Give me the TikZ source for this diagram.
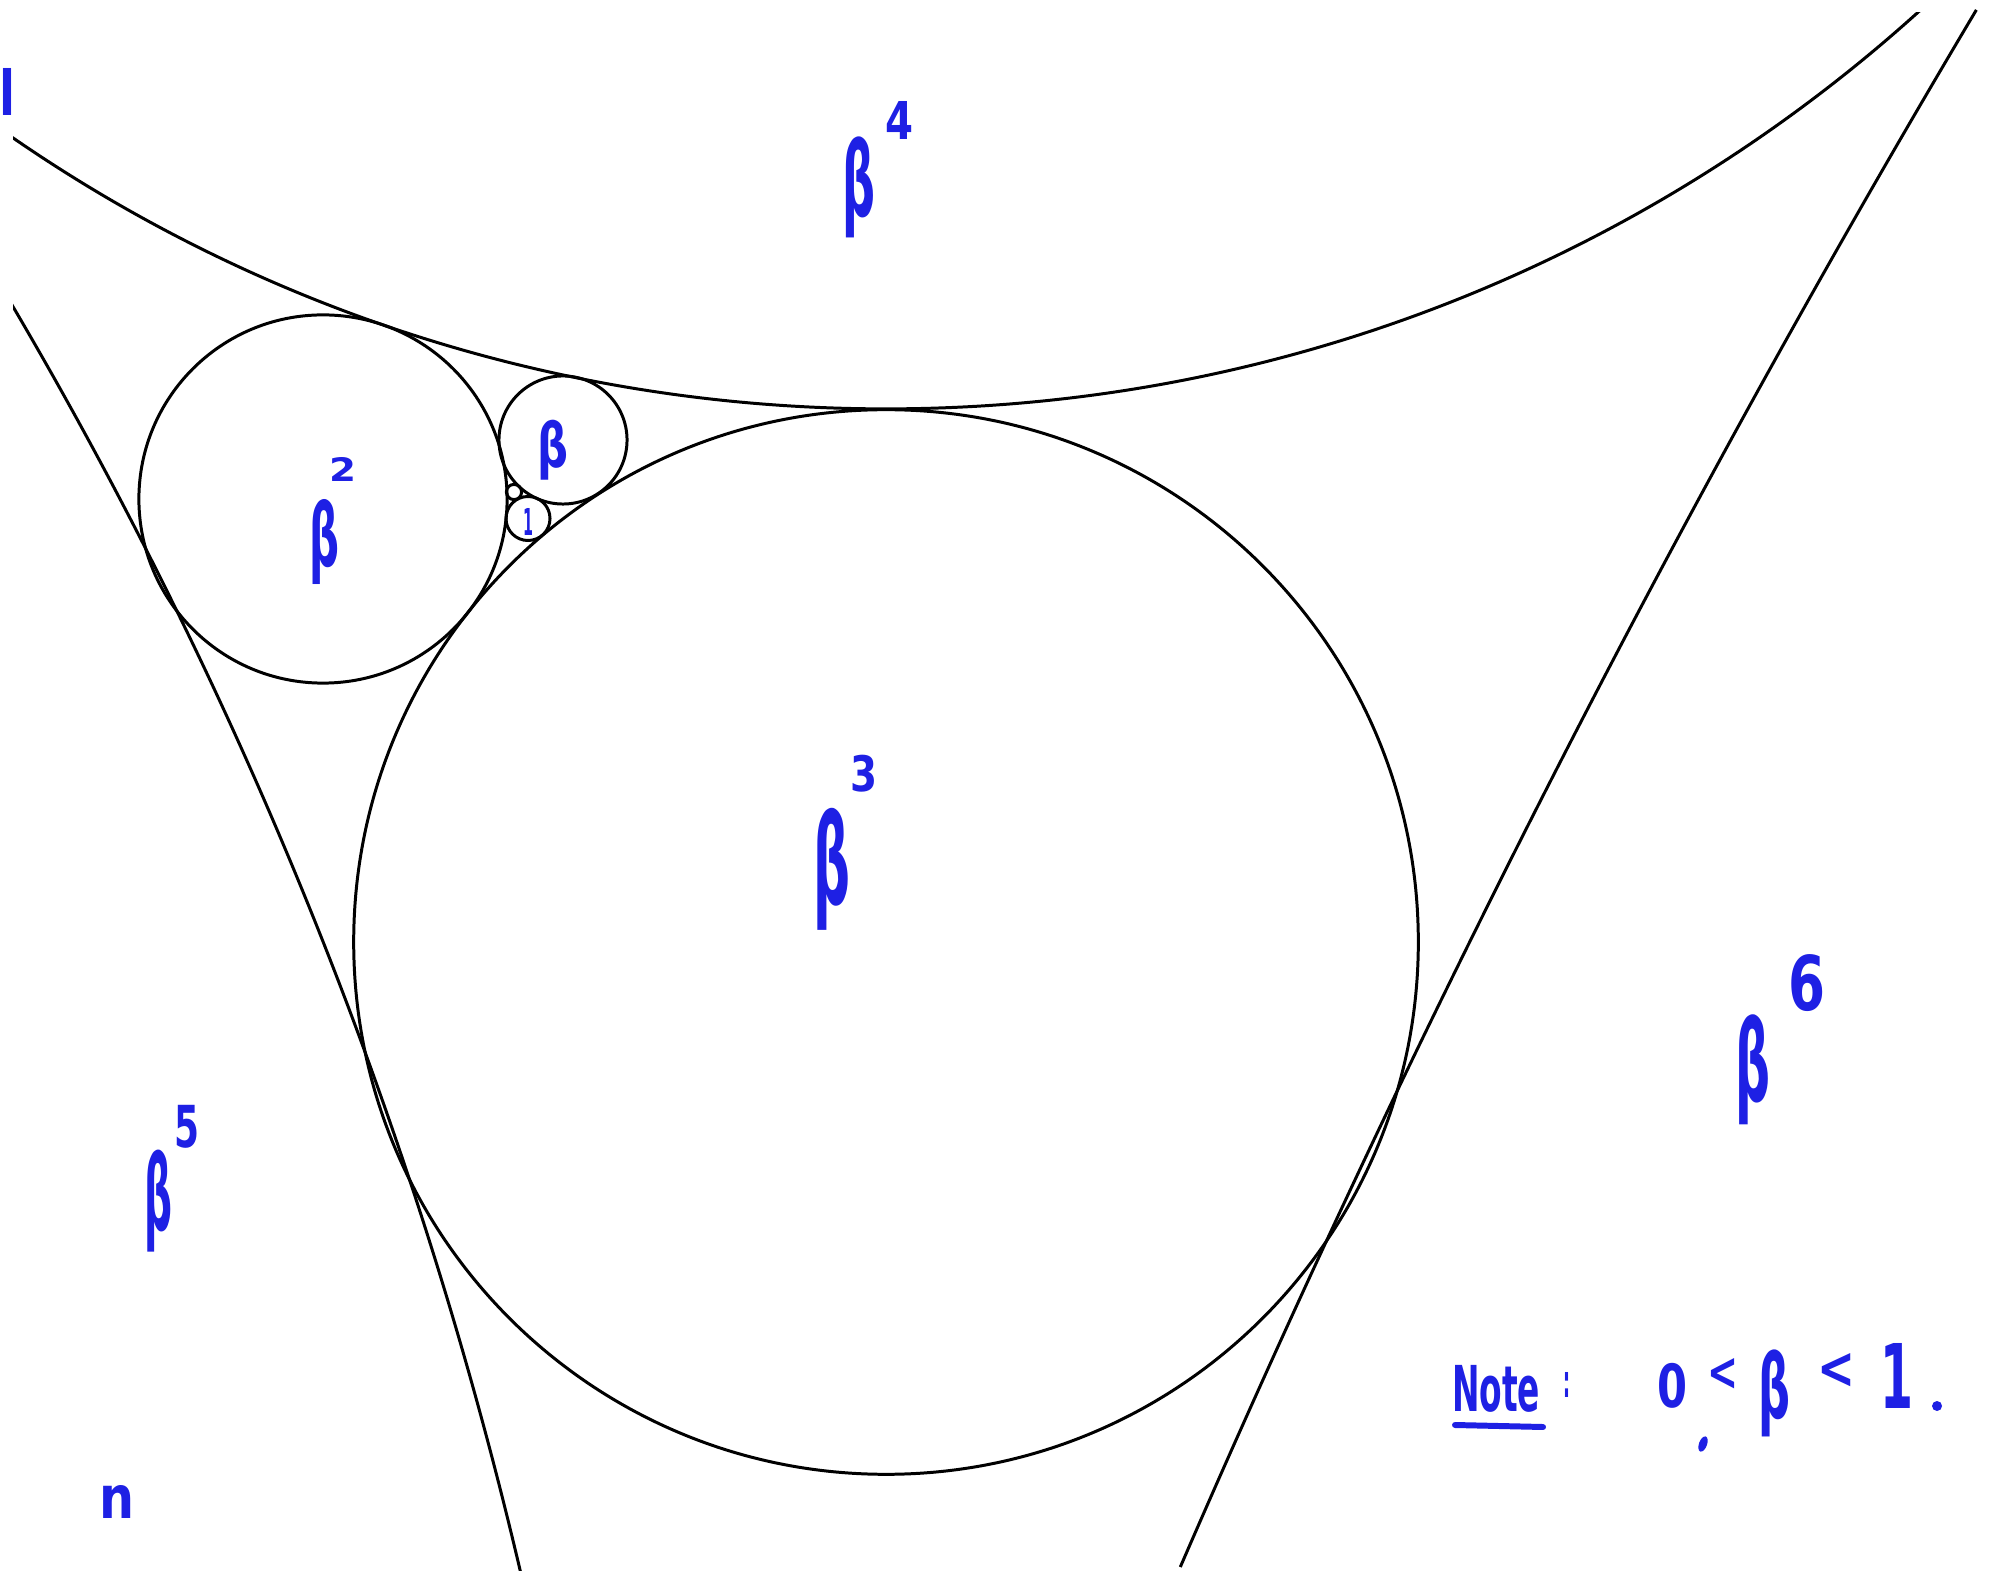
\documentclass[tikz,border=0pt]{standalone}
\usepackage{graphicx}
\usepackage{fontspec}
\newfontfamily\handfont{DejaVu Sans}
\definecolor{handblue}{RGB}{30,32,228}
\tikzset{
  curve/.style={draw=black, line width=0.85pt},
  hand/.style={text=handblue, inner sep=0pt, outer sep=0pt},
}
\newcommand{\hw}[3]{\resizebox*{#1cm}{#2cm}{\handfont\bfseries #3}}
\begin{document}
\begin{tikzpicture}[x=0.01cm,y=-0.01cm]
\useasboundingbox (0,0) rectangle (2007,1583);
\fill[white] (0,0) rectangle (2007,1583);
\begin{scope}
  \clip (13,13) rectangle (2000,1570);
  % outer mutually tangent circles
  \draw[curve] (886,-1132) circle[radius=15.40cm];
  \draw[curve] (-3931,2622) circle[radius=45.70cm];
  % inner chain
  \draw[curve] (886,942) circle[radius=5.32cm];
  \draw[curve] (323,499) circle[radius=1.84cm];
  \draw[curve] (563,440) circle[radius=0.64cm];
  \draw[curve] (528,518.5) circle[radius=0.22cm];
  \draw[curve] (514,492) circle[radius=0.076cm];
\end{scope}
% right circle: drawn as a short arc for precision
\coordinate (cr) at (13649,6960);
\draw[curve] (cr) ++(149.23:135.78cm) arc[start angle=149.23, end angle=156.61, radius=135.78cm];
% labels
\node[hand] (b4)  at (858.5,187.5) {\hw{0.33}{1.01}{β}};
\node[hand] (b4e) at (899,121)     {\hw{0.28}{0.38}{4}};
\node[hand] (b2)  at (325,542.5)   {\hw{0.30}{0.85}{β}};
\node[hand] (b2e) at (343.5,470)   {\hw{0.27}{0.24}{2}};
\node[hand] (b3)  at (831.5,869)   {\hw{0.37}{1.22}{β}};
\node[hand] (b3e) at (863.5,773.5) {\hw{0.27}{0.37}{3}};
\node[hand] (b6)  at (1752.5,1070) {\hw{0.35}{1.10}{β}};
\node[hand] (b6e) at (1806.5,983.5){\hw{0.37}{0.57}{6}};
\node[hand] (b5)  at (159,1201)    {\hw{0.28}{1.02}{β}};
\node[hand] (b5e) at (187.5,1126.5){\hw{0.25}{0.43}{5}};
\node[hand] (b1)  at (552.5,450)   {\hw{0.31}{0.60}{β}};
\node[hand] (one) at (528,521.5)   {\hw{0.10}{0.27}{1}};
\node[hand] (ii)  at (8,92)        {\hw{0.16}{0.47}{I}};
\node[hand] (nn)  at (117.5,1501.5){\hw{0.35}{0.33}{n}};
% note
\node[hand] (note) at (1496,1388.5) {\hw{0.88}{0.47}{Note}};
\coordinate (ul1) at (1455,1425);
\coordinate (ul2) at (1543,1427);
\draw[handblue, line width=1.7pt, line cap=round] (ul1) -- (ul2);
\node[hand] (colon) at (1567,1385) {\hw{0.07}{0.25}{:}};
\node[hand] (z0)  at (1672,1385.5) {\hw{0.30}{0.45}{0}};
\node[hand] (lt1) at (1722.5,1374) {\hw{0.31}{0.32}{<}};
\node[hand] (bn)  at (1774,1393.5) {\hw{0.32}{0.87}{β}};
\node[hand] (lt2) at (1836,1370.5) {\hw{0.38}{0.35}{<}};
\node[hand] (o1)  at (1896.5,1375.5){\hw{0.33}{0.65}{1}};
\fill[handblue] (1937,1406) circle[radius=0.05cm];
\fill[handblue, rotate around={70:(1703,1444)}] (1703,1444) ellipse[x radius=0.08cm, y radius=0.04cm];
\end{tikzpicture}
\end{document}
